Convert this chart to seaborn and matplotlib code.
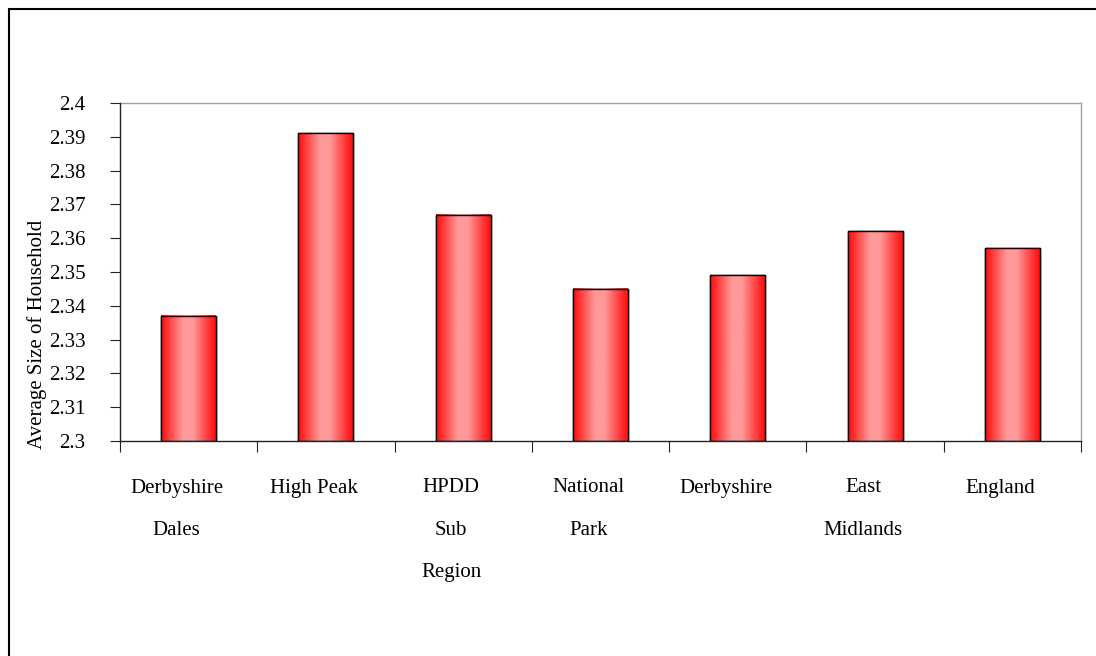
import numpy as np
import matplotlib
matplotlib.use("Agg")
import matplotlib.pyplot as plt
from matplotlib.lines import Line2D
from matplotlib.colors import LinearSegmentedColormap
import matplotlib.transforms as mtransforms
import seaborn as sns

# Average household size by area
categories = ["Derbyshire\nDales", "High Peak", "HPDD\nSub\nRegion", "National\nPark",
              "Derbyshire", "East\nMidlands", "England"]
values = [2.337, 2.391, 2.367, 2.345, 2.349, 2.362, 2.357]
y_ticks = [2.30, 2.31, 2.32, 2.33, 2.34, 2.35, 2.36, 2.37, 2.38, 2.39, 2.40]
y_tick_labels = ["2.3", "2.31", "2.32", "2.33", "2.34", "2.35", "2.36", "2.37", "2.38", "2.39", "2.4"]
y_title = "Average Size of Household"

sns.set_theme(style="white")
plt.rcParams["font.family"] = ["Liberation Serif", "DejaVu Serif"]
plt.rcParams["font.size"] = 15
plt.rcParams["text.color"] = "black"
plt.rcParams["axes.labelcolor"] = "black"
plt.rcParams["xtick.color"] = "black"
plt.rcParams["ytick.color"] = "black"

fig = plt.figure(figsize=(10.96, 6.56), dpi=100)
ax = fig.add_axes([120 / 1096, 1 - 441 / 656, 961 / 1096, 338 / 656])

sns.barplot(x=categories, y=values, width=0.4, color="#ff2020",
            edgecolor="black", linewidth=1.0, ax=ax, zorder=3)

ymin, ymax = y_ticks[0], y_ticks[-1]
ax.set_ylim(ymin, ymax)
ax.set_xlim(-0.5, len(categories) - 0.5)

# Horizontal red-pink gradient inside each bar, drawn over the visible part
grad_cmap = LinearSegmentedColormap.from_list(
    "redsheen",
    [(0.0, "#ff0a0a"), (0.18, "#ff4a4a"), (0.40, "#ff9a9a"), (0.58, "#ff9a9a"),
     (0.82, "#ff4545"), (1.0, "#ff0d0d")])
grad = np.linspace(0, 1, 256).reshape(1, -1)
for patch in list(ax.patches):
    x0, w = patch.get_x(), patch.get_width()
    top = patch.get_y() + patch.get_height()
    ax.imshow(grad, cmap=grad_cmap, aspect="auto", extent=(x0, x0 + w, ymin, top),
              zorder=3.5, interpolation="bilinear")
    ax.add_patch(plt.Rectangle((x0, ymin), w, top - ymin, fill=False,
                               edgecolor="black", linewidth=1.0, zorder=4))
ax.set_ylim(ymin, ymax)
ax.set_xlim(-0.5, len(categories) - 0.5)

# Y axis
ax.set_yticks(y_ticks)
ax.set_yticklabels(y_tick_labels)
ax.tick_params(axis="y", which="major", direction="out", length=7, width=0.8,
               color="#222222", labelcolor="black", pad=18, labelsize=15, left=True)
ax.set_ylabel(y_title, fontsize=15, ha="center", va="center", color="black")
ax.yaxis.set_label_coords(-0.0864, 0.3166)

# X axis: labels at category centres, tick marks at category boundaries
ax.set_xticks(range(len(categories)))
ax.set_xticklabels(categories, linespacing=2.65)
ax.set_xticks(np.arange(-0.5, len(categories), 1.0), minor=True)
ax.tick_params(axis="x", which="major", length=0, pad=27, labelsize=15, labelcolor="black")
ax.tick_params(axis="x", which="minor", direction="out", length=8, width=0.8,
               color="#222222", bottom=True)
shift = mtransforms.ScaledTranslation(-12 / 100, 0, fig.dpi_scale_trans)
for lbl in ax.get_xticklabels():
    lbl.set_transform(lbl.get_transform() + shift)
ax.set_xlabel("")

for side in ["left", "bottom"]:
    ax.spines[side].set_visible(True)
    ax.spines[side].set_color("#222222")
    ax.spines[side].set_linewidth(1.0)
    ax.spines[side].set_zorder(5)
for side in ["top", "right"]:
    ax.spines[side].set_visible(True)
    ax.spines[side].set_color("#a0a0a0")
    ax.spines[side].set_linewidth(1.0)
ax.grid(False)
ax.set_facecolor("white")

# Outer frame line on the left and top of the figure
fx, fy = 9 / 1096, 1 - 9 / 656
fig.add_artist(Line2D([fx, fx, 1.01], [-0.01, fy, fy], transform=fig.transFigure,
                      color="black", linewidth=1.5, solid_joinstyle="miter"))

fig.savefig("out.png", dpi=100, facecolor="white")
